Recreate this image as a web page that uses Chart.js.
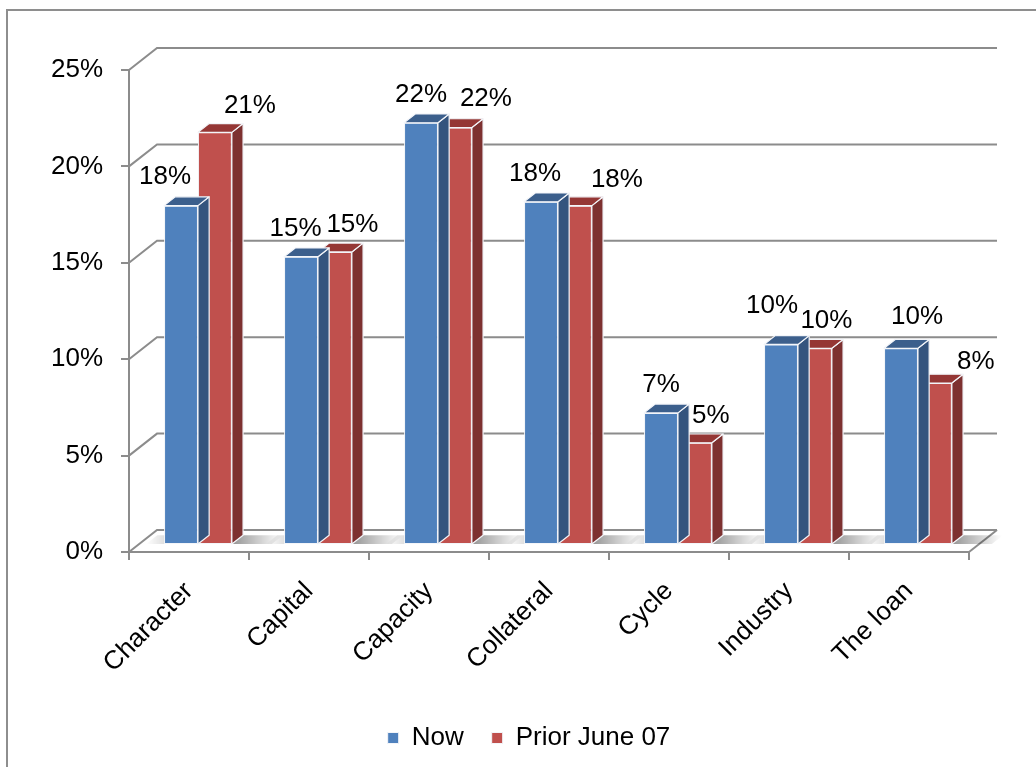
<!DOCTYPE html>
<html><head><meta charset="utf-8">
<script src="https://cdn.jsdelivr.net/npm/chart.js@4"></script>
<style>html,body{margin:0;padding:0;background:#fff;overflow:hidden}#wrap{width:1036px;height:767px;position:relative}</style>
</head><body><div id="wrap"><canvas id="c" width="1036" height="767"></canvas></div>
<script>
const categories = ['Character', 'Capital', 'Capacity', 'Collateral', 'Cycle', 'Industry', 'The loan'];
const seriesNames = ['Now', 'Prior June 07'];
const nowValues = [17.6, 14.95, 21.9, 17.8, 6.85, 10.4, 10.2];
const priorValues = [21.4, 15.2, 21.65, 17.6, 5.3, 10.2, 8.4];
const yTicks = [0, 5, 10, 15, 20, 25];
// data-label nudges (px) relative to the top of each bar
const nowLabelDx = [-16, -5.5, 0, -6, 0, -9, 16];
const nowLabelDy = [-2, -1, -1, -1, -1, -12, -4];
const priorLabelDx = [35, 17.5, 31, 42, 16, 11.5, 41];
const priorLabelDy = [0, 0, -1.5, 1, 0, 0, 6];

const FONT = '"Liberation Sans", Arial, Helvetica, sans-serif';
Chart.defaults.font.family = FONT;
Chart.defaults.color = '#000';

const DX = 28, DY = -22;      // full depth of the 3D box
const FRONT = 0.32, BAR = 0.40; // bar depth position / thickness
const GRID = '#8c8c8c';
const EDGE = '#f3f5f9';

const threeD = {
  id: 'threeD',
  beforeDraw(chart) {
    const {ctx, chartArea: a, scales: {y}} = chart;
    ctx.save();
    ctx.strokeStyle = '#8e8e8e'; ctx.lineWidth = 2;
    ctx.strokeRect(7, 10, 1200, 1000);
    ctx.strokeStyle = GRID; ctx.lineWidth = 2;
    yTicks.forEach(v => {
      const py = y.getPixelForValue(v);
      ctx.beginPath();
      ctx.moveTo(a.left, py);
      ctx.lineTo(a.left + DX, py + DY);
      ctx.lineTo(a.right + DX, py + DY);
      ctx.stroke();
    });
    const p0 = y.getPixelForValue(0);
    ctx.beginPath();
    ctx.moveTo(a.right, p0);
    ctx.lineTo(a.right + DX, p0 + DY);
    ctx.stroke();
    ctx.restore();
  },
  beforeDatasetsDraw(chart) {
    const ctx = chart.ctx;
    ctx.save();
    ctx.translate(DX * FRONT, DY * FRONT);
    const bx = DX * BAR, by = DY * BAR;
    const first = chart.getDatasetMeta(0).data;
    const last = chart.getDatasetMeta(chart.data.datasets.length - 1).data;
    last.forEach((bar) => {
      const {x, base, width} = bar.getProps(['x', 'base', 'width'], true);
      const xr = x + width / 2;
      const g = ctx.createLinearGradient(xr, 0, xr + 50, 0);
      g.addColorStop(0, 'rgba(0,0,0,0.42)');
      g.addColorStop(1, 'rgba(0,0,0,0)');
      ctx.beginPath();
      ctx.moveTo(xr, base); ctx.lineTo(xr + bx, base + by);
      ctx.lineTo(xr + bx + 40, base + by); ctx.lineTo(xr + 40, base);
      ctx.closePath(); ctx.fillStyle = g; ctx.fill();
    });
    first.forEach((bar) => {
      const {x, base, width} = bar.getProps(['x', 'base', 'width'], true);
      const xl = x - width / 2;
      const g = ctx.createLinearGradient(xl, 0, xl - 18, 0);
      g.addColorStop(0, 'rgba(0,0,0,0.12)');
      g.addColorStop(1, 'rgba(0,0,0,0)');
      ctx.beginPath();
      ctx.moveTo(xl, base); ctx.lineTo(xl + bx, base + by);
      ctx.lineTo(xl - 18 + bx, base + by); ctx.lineTo(xl - 18, base);
      ctx.closePath(); ctx.fillStyle = g; ctx.fill();
    });
  },
  afterDatasetDraw(chart, args) {
    const ctx = chart.ctx;
    const ds = chart.data.datasets[args.index];
    const bx = DX * BAR, by = DY * BAR;
    args.meta.data.forEach((bar) => {
      const {x, y, base, width} = bar.getProps(['x', 'y', 'base', 'width'], true);
      const l = x - width / 2, r = x + width / 2;
      ctx.lineWidth = 1.2;
      ctx.strokeStyle = EDGE;
      ctx.lineJoin = 'round';
      // side face
      ctx.beginPath();
      ctx.moveTo(r, y); ctx.lineTo(r + bx, y + by);
      ctx.lineTo(r + bx, base + by); ctx.lineTo(r, base);
      ctx.closePath(); ctx.fillStyle = ds.sideColor; ctx.fill(); ctx.stroke();
      // top face
      ctx.beginPath();
      ctx.moveTo(l, y); ctx.lineTo(l + bx, y + by);
      ctx.lineTo(r + bx, y + by); ctx.lineTo(r, y);
      ctx.closePath(); ctx.fillStyle = ds.topColor; ctx.fill(); ctx.stroke();
    });
  },
  afterDatasetsDraw(chart) {
    const ctx = chart.ctx;
    ctx.font = '26px ' + FONT;
    ctx.fillStyle = '#000';
    ctx.textAlign = 'center';
    ctx.textBaseline = 'middle';
    chart.data.datasets.forEach((ds, di) => {
      const meta = chart.getDatasetMeta(di);
      meta.data.forEach((bar, i) => {
        const {x, y} = bar.getProps(['x', 'y'], true);
        ctx.fillText(Math.round(ds.data[i]) + '%', x + ds.labelDx[i], y - 27 + ds.labelDy[i]);
      });
    });
    ctx.restore();
  }
};

new Chart(document.getElementById('c'), {
  type: 'bar',
  data: {
    labels: categories,
    datasets: [
      {label: seriesNames[0], data: nowValues, backgroundColor: '#4F81BD', borderColor: EDGE, borderWidth: 1, borderSkipped: false,
       topColor: '#3C5F8C', sideColor: '#34547E', labelDx: nowLabelDx, labelDy: nowLabelDy},
      {label: seriesNames[1], data: priorValues, backgroundColor: '#C0504D', borderColor: EDGE, borderWidth: 1, borderSkipped: false,
       topColor: '#953735', sideColor: '#7D3130', labelDx: priorLabelDx, labelDy: priorLabelDy}
    ]
  },
  options: {
    responsive: false,
    animation: false,
    devicePixelRatio: 1,
    categoryPercentage: 0.565,
    barPercentage: 1,
    layout: {padding: {left: 40, right: 18, top: 70, bottom: 6}},
    plugins: {
      legend: {
        position: 'bottom',
        labels: {font: {size: 26, family: FONT}, color: '#000', boxWidth: 11, boxHeight: 11, padding: 28}
      },
      tooltip: {enabled: false}
    },
    scales: {
      x: {
        afterFit: s => { s.height = 145; },
        grid: {drawOnChartArea: false, drawTicks: true, tickLength: 8, color: GRID, lineWidth: 2},
        border: {display: true, color: GRID, width: 2},
        ticks: {font: {size: 26, family: FONT}, color: '#000', minRotation: 45, maxRotation: 45, autoSkip: false, padding: 16}
      },
      y: {
        min: 0, max: 25,
        afterFit: s => { s.width = 129 - 40; },
        afterBuildTicks: s => { s.ticks = yTicks.map(v => ({value: v})); },
        grid: {drawOnChartArea: false, drawTicks: true, tickLength: 8, color: GRID, lineWidth: 2},
        border: {display: true, color: GRID, width: 2},
        ticks: {font: {size: 26, family: FONT}, color: '#000', padding: 18, callback: v => v + '%'}
      },
      yRight: {
        type: 'linear', position: 'right', min: 0, max: 25,
        afterFit: s => { s.width = 1036 - 18 - 969; },
        grid: {display: false}, border: {display: false}, ticks: {display: false}
      }
    }
  },
  plugins: [threeD]
});
</script></body></html>
